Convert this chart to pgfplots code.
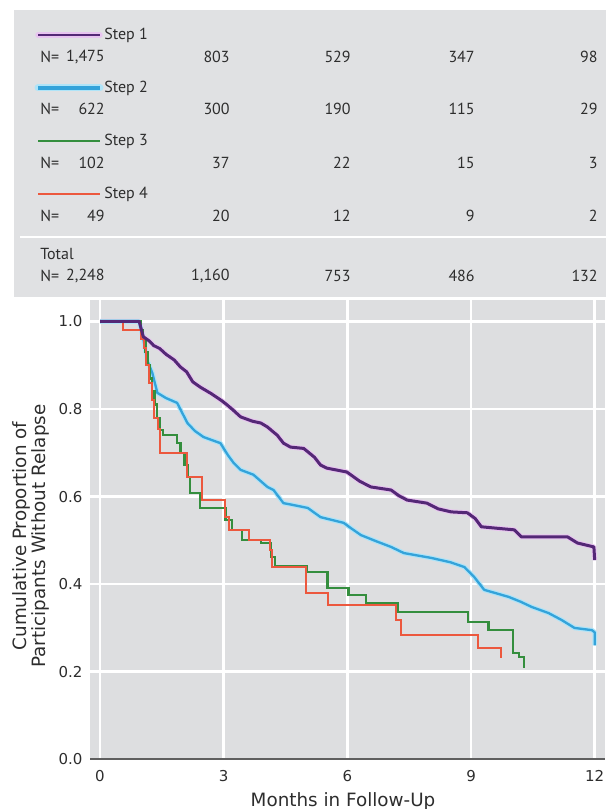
\documentclass[border=0pt]{standalone}
\usepackage{fontspec}
\setmainfont{PT Sans}
\newfontfamily\labfont{DejaVu Sans}
\usepackage{pgfplots}
\usepackage{pgfplotstable}
\pgfplotsset{compat=1.18}

\definecolor{bggray}{RGB}{221,222,224}
\definecolor{tabgray}{RGB}{224,225,227}
\definecolor{txt}{RGB}{45,45,45}
\definecolor{axisline}{RGB}{95,95,95}
\definecolor{s1}{RGB}{84,40,118}
\definecolor{s1halo}{RGB}{232,196,240}
\definecolor{s2}{RGB}{52,163,218}
\definecolor{s2halo}{RGB}{175,228,248}
\definecolor{s3}{RGB}{52,142,62}
\definecolor{s4}{RGB}{236,88,62}

\pgfplotstableread{
x y
0 1.0
0.95 1.0
1.05 0.965
1.2 0.955
1.3 0.945
1.45 0.938
1.6 0.925
1.8 0.912
1.95 0.896
2.1 0.885
2.25 0.862
2.43 0.850
2.7 0.835
2.92 0.821
3.05 0.812
3.2 0.800
3.41 0.782
3.7 0.772
3.9 0.768
4.06 0.759
4.3 0.740
4.45 0.722
4.62 0.713
4.94 0.710
5.2 0.690
5.35 0.672
5.5 0.665
5.99 0.656
6.3 0.635
6.57 0.622
7.06 0.615
7.25 0.602
7.45 0.592
7.93 0.585
8.2 0.572
8.52 0.565
8.91 0.563
9.1 0.550
9.25 0.531
10.05 0.524
10.22 0.508
11.34 0.508
11.58 0.494
11.98 0.485
12.0 0.455
}\stepone

\pgfplotstableread{
x y
0 1.0
0.95 1.0
1.05 0.96
1.15 0.91
1.27 0.882
1.39 0.837
1.6 0.825
1.87 0.814
2.12 0.768
2.3 0.750
2.51 0.736
2.92 0.722
3.1 0.695
3.24 0.677
3.41 0.661
3.72 0.650
4.06 0.622
4.21 0.615
4.45 0.585
4.62 0.582
5.04 0.574
5.35 0.553
5.91 0.540
6.1 0.527
6.33 0.512
6.7 0.498
7.06 0.485
7.37 0.471
8.03 0.460
8.5 0.450
8.84 0.439
9.08 0.416
9.32 0.387
9.91 0.371
10.2 0.360
10.47 0.348
10.88 0.334
11.2 0.318
11.51 0.300
11.93 0.295
12.0 0.290
12.0 0.260
}\steptwo

\pgfplotstableread{
x y
0 1.0
1.0 0.98
1.05 0.96
1.1 0.93
1.15 0.90
1.2 0.87
1.26 0.84
1.32 0.81
1.38 0.78
1.46 0.752
1.53 0.741
1.87 0.723
1.95 0.700
2.05 0.672
2.12 0.645
2.19 0.608
2.43 0.574
3.04 0.547
3.2 0.524
3.45 0.501
3.9 0.494
4.14 0.462
4.25 0.441
5.02 0.428
5.52 0.391
6.03 0.375
6.45 0.357
7.23 0.336
8.93 0.314
9.42 0.295
10.02 0.243
10.17 0.234
10.29 0.209
}\stepthree

\pgfplotstableread{
x y
0 1.0
0.56 0.98
1.0 0.96
1.06 0.94
1.12 0.90
1.18 0.86
1.25 0.82
1.32 0.78
1.4 0.755
1.46 0.700
2.12 0.645
2.48 0.592
3.04 0.553
3.12 0.524
3.62 0.501
4.12 0.478
4.18 0.440
4.99 0.380
5.52 0.353
7.18 0.318
7.3 0.284
9.17 0.254
9.73 0.231
}\stepfour

\begin{document}
\begin{tikzpicture}[x=0.6pt,y=-0.6pt]
\useasboundingbox (0,0) rectangle (606,809);
% table background
\fill[tabgray] (14,10) rectangle (606,297);
\draw[white, line width=1.5pt] (20,237) -- (606,237);

% legend samples
\draw[s1halo, line width=3.2pt, line cap=round] (38,35) -- (100,35);
\draw[s1, line width=1.7pt] (38,35) -- (100,35);
\draw[s2halo, line width=4.2pt, line cap=round] (38,88) -- (100,88);
\draw[s2, line width=2.6pt] (38,88) -- (100,88);
\draw[s3, line width=1.5pt] (38,141) -- (100,141);
\draw[s4, line width=1.6pt] (38,194) -- (100,194);

\begin{scope}[every node/.style={text=txt, font=\fontsize{9.6}{11}\selectfont, inner sep=0pt}]
\node[anchor=west] at (104,35) {Step 1};
\node[anchor=west] at (104,88) {Step 2};
\node[anchor=west] at (104,141) {Step 3};
\node[anchor=west] at (104,194) {Step 4};
\node[anchor=west] at (40,254) {Total};
\node[anchor=west] at (40,57) {N=};
\node[anchor=west] at (40,109) {N=};
\node[anchor=west] at (40,163) {N=};
\node[anchor=west] at (40,216) {N=};
\node[anchor=west] at (40,276) {N=};
\end{scope}
\begin{scope}[every node/.style={text=txt, font=\fontsize{9.6}{11}\selectfont, inner sep=0pt, anchor=east}]
\node at (105,57) {1,475}; \node at (230,57) {803}; \node at (351,57) {529}; \node at (475,57) {347}; \node at (598,57) {98};
\node at (105,109) {622}; \node at (230,109) {300}; \node at (351,109) {190}; \node at (475,109) {115}; \node at (598,109) {29};
\node at (105,163) {102}; \node at (230,163) {37}; \node at (351,163) {22}; \node at (475,163) {15}; \node at (598,163) {3};
\node at (105,216) {49}; \node at (230,216) {20}; \node at (351,216) {12}; \node at (475,216) {9}; \node at (598,216) {2};
\node at (105,276) {2,248}; \node at (230,276) {1,160}; \node at (351,276) {753}; \node at (475,276) {486}; \node at (598,276) {132};
\end{scope}

% axis labels
\node[rotate=90, align=center, text=txt, font=\labfont\fontsize{11}{11}\selectfont, inner sep=0pt] at (31,536) {Cumulative Proportion of\\Participants Without Relapse};
\node[text=txt, font=\labfont\fontsize{11}{12}\selectfont, inner sep=0pt] at (343,801) {Months in Follow-Up};

\begin{axis}[
  at={(54pt,-455.58pt)}, anchor=south west,
  scale only axis, width=309pt, height=275.6pt,
  xmin=-0.243, xmax=12.25, ymin=0, ymax=1.049,
  axis background/.style={fill=bggray},
  axis x line=bottom, axis y line=left,
  x axis line style={draw=axisline, line width=1.3pt, -},
  y axis line style={draw=none},
  xtick={0,3,6,9,12}, ytick={0,0.2,0.4,0.6,0.8,1.0},
  yticklabels={0.0,0.2,0.4,0.6,0.8,1.0},
  major tick length=0pt,
  grid=major, major grid style={white, line width=1.5pt},
  tick label style={text=txt, font=\labfont\fontsize{9}{10}\selectfont},
  /pgf/number format/assume math mode=true,
  xticklabel style={yshift=-3pt},
  yticklabel style={xshift=-1pt},
  clip=true,
]
\addplot[s1halo, line width=3pt, line join=round] table[x=x,y=y] {\stepone};
\addplot[s2halo, line width=2.8pt, line join=round] table[x=x,y=y] {\steptwo};
\addplot[s2, line width=1.4pt, line join=round] table[x=x,y=y] {\steptwo};
\addplot[s3, line width=1.4pt, const plot] table[x=x,y=y] {\stepthree};
\addplot[s4, line width=1.2pt, const plot] table[x=x,y=y] {\stepfour};
\addplot[s1, line width=1.8pt, line join=round] table[x=x,y=y] {\stepone};
\end{axis}
\end{tikzpicture}
\end{document}
